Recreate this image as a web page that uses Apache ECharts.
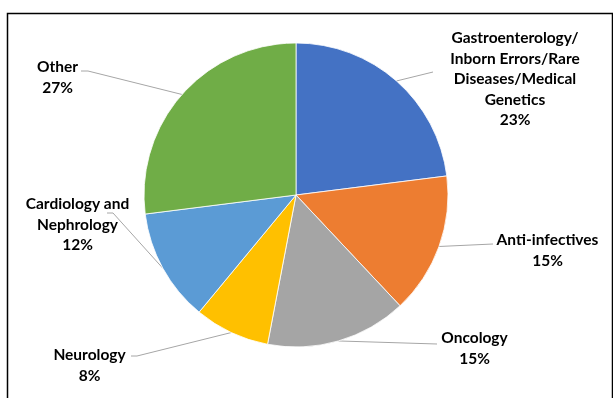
<!DOCTYPE html>
<html>
<head>
<meta charset="utf-8">
<script src="https://cdn.jsdelivr.net/npm/echarts@6/dist/echarts.min.js"></script>
<style>html,body{margin:0;padding:0;background:#fff;}#c{width:613px;height:398px;}</style>
</head>
<body>
<div id="c"></div>
<script>
const categories = [
  "Gastroenterology/\nInborn Errors/Rare\nDiseases/Medical\nGenetics",
  "Anti-infectives",
  "Oncology",
  "Neurology",
  "Cardiology and\nNephrology",
  "Other"
];
const values = [23, 15, 15, 8, 12, 27];
const colors = ["#4472C4", "#ED7D31", "#A5A5A5", "#FFC000", "#5B9BD5", "#70AD47"];

// label block centers and leader line end points (layout only)
const labelPos = [
  {x: 515, y: 79, line: [[433, 72]]},
  {x: 547.5, y: 250.5, line: [[493, 244]]},
  {x: 474.5, y: 348.5, line: [[437, 344]]},
  {x: 89.5, y: 365.5, line: [[137, 356], [131, 356]]},
  {x: 77.5, y: 224.5, line: [[113, 213], [107, 213]]},
  {x: 57.5, y: 77.5, line: [[88, 71], [81, 71]]}
];

const chart = echarts.init(document.getElementById('c'), null, {renderer: 'canvas'});
chart.setOption({
  animation: false,
  graphic: [{
    type: 'rect',
    shape: {x: 7.5, y: 13.5, width: 605, height: 500},
    style: {fill: 'none', stroke: '#000', lineWidth: 1.5},
    silent: true
  }],
  series: [{
    type: 'pie',
    center: [296, 195],
    radius: 152,
    startAngle: 90,
    clockwise: true,
    percentPrecision: 0,
    avoidLabelOverlap: false,
    data: categories.map((n, i) => ({name: n, value: values[i], itemStyle: {color: colors[i]}})),
    itemStyle: {borderColor: '#fff', borderWidth: 0.8},
    label: {
      show: true,
      position: 'outside',
      formatter: '{b}\n{d}%',
      fontFamily: 'Lato',
      fontWeight: 'bold',
      fontSize: 15.5,
      lineHeight: 20.5,
      color: '#000',
      align: 'center'
    },
    labelLine: {
      show: true,
      lineStyle: {color: '#A6A6A6', width: 1}
    },
    labelLayout: function (params) {
      const p = labelPos[params.dataIndex];
      const start = params.labelLinePoints ? params.labelLinePoints[0] : [0, 0];
      const pts = [start].concat(p.line);
      while (pts.length < 3) pts.push(pts[pts.length - 1]);
      return {
        x: p.x,
        y: p.y,
        align: 'center',
        verticalAlign: 'middle',
        labelLinePoints: pts
      };
    }
  }]
});
</script>
</body>
</html>
